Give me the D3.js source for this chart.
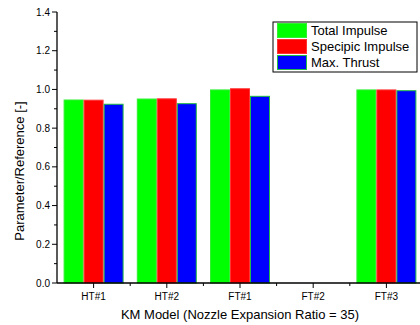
<!DOCTYPE html>
<html>
<head>
<meta charset="utf-8">
<script src="https://cdn.jsdelivr.net/npm/d3@7"></script>
<style>
  body { margin: 0; background: #fff; }
  svg { font-family: "Liberation Sans", Arial, sans-serif; }
</style>
</head>
<body>
<svg id="chart" width="420" height="325"></svg>
<script>
const categories = ['HT#1', 'HT#2', 'FT#1', 'FT#2', 'FT#3'];
const seriesNames = ['Total Impulse', 'Specipic Impulse', 'Max. Thrust'];
const totalImpulse = [0.948, 0.953, 1.0, null, 1.0];
const specificImpulse = [0.947, 0.954, 1.006, null, 1.0];
const maxThrust = [0.926, 0.929, 0.967, null, 0.996];
const yTicks = [0.0, 0.2, 0.4, 0.6, 0.8, 1.0, 1.2, 1.4];

const series = [totalImpulse, specificImpulse, maxThrust];
const fills = ['#00ff00', '#ff0000', '#0000ff'];
const strokes = ['#33ee33', '#ff3333', '#22bb44'];

const svg = d3.select('#chart');
const plotLeft = 57, plotTop = 12, plotBottom = 283;
const step = 73.2;

const x = d3.scaleBand()
  .domain(categories)
  .range([plotLeft, plotLeft + step * categories.length])
  .paddingInner(13.2 / 73.2)
  .paddingOuter(6.6 / 73.2);

const xSub = d3.scaleBand()
  .domain(seriesNames)
  .range([0, x.bandwidth()]);

const y = d3.scaleLinear()
  .domain([0, 1.4])
  .range([plotBottom, plotTop]);

// bars
seriesNames.forEach((name, si) => {
  svg.append('g')
    .selectAll('rect')
    .data(categories.map((c, i) => ({ c, v: series[si][i] })).filter(d => d.v != null))
    .enter()
    .append('rect')
    .attr('x', d => x(d.c) + xSub(name) + 0.5)
    .attr('y', d => y(d.v) + 0.5)
    .attr('width', xSub.bandwidth() - 1)
    .attr('height', d => y(0) - y(d.v) - 0.5)
    .attr('fill', fills[si])
    .attr('stroke', strokes[si])
    .attr('stroke-width', 1);
});

// y axis
const yAxis = svg.append('g').attr('transform', `translate(${plotLeft},0)`);
yAxis.append('line')
  .attr('x1', 0).attr('x2', 0)
  .attr('y1', y(1.4)).attr('y2', y(0))
  .attr('stroke', '#000').attr('stroke-width', 1.3);
yAxis.selectAll('.major')
  .data(yTicks).enter().append('line')
  .attr('x1', -5).attr('x2', 0)
  .attr('y1', d => y(d)).attr('y2', d => y(d))
  .attr('stroke', '#000');
yAxis.selectAll('.minor')
  .data(d3.range(0.1, 1.4, 0.2)).enter().append('line')
  .attr('x1', -3).attr('x2', 0)
  .attr('y1', d => y(d)).attr('y2', d => y(d))
  .attr('stroke', '#000');
yAxis.selectAll('text')
  .data(yTicks).enter().append('text')
  .attr('x', -7).attr('y', d => y(d) + 3.5)
  .attr('text-anchor', 'end')
  .attr('font-size', 10)
  .text(d => d.toFixed(1));

// x axis
const xAxis = svg.append('g').attr('transform', `translate(0,${plotBottom})`);
xAxis.append('line')
  .attr('x1', plotLeft).attr('x2', 420)
  .attr('y1', 0).attr('y2', 0)
  .attr('stroke', '#000').attr('stroke-width', 1.3);
xAxis.selectAll('.major')
  .data(categories).enter().append('line')
  .attr('x1', d => x(d) + x.bandwidth() / 2).attr('x2', d => x(d) + x.bandwidth() / 2)
  .attr('y1', 0).attr('y2', 5)
  .attr('stroke', '#000');
xAxis.selectAll('.minor')
  .data(categories).enter().append('line')
  .attr('x1', (d, i) => plotLeft + step * (i + 1)).attr('x2', (d, i) => plotLeft + step * (i + 1))
  .attr('y1', 0).attr('y2', 3)
  .attr('stroke', '#000');
xAxis.selectAll('text')
  .data(categories).enter().append('text')
  .attr('x', d => x(d) + x.bandwidth() / 2)
  .attr('y', 17)
  .attr('text-anchor', 'middle')
  .attr('font-size', 10)
  .text(d => d);

// axis titles
svg.append('text')
  .attr('x', 240).attr('y', 319)
  .attr('text-anchor', 'middle')
  .attr('font-size', 13)
  .text('KM Model (Nozzle Expansion Ratio = 35)');

svg.append('text')
  .attr('transform', 'translate(24,171) rotate(-90)')
  .attr('text-anchor', 'middle')
  .attr('font-size', 13)
  .text('Parameter/Reference [-]');

// legend
const legend = svg.append('g');
legend.append('rect')
  .attr('x', 273).attr('y', 22)
  .attr('width', 144).attr('height', 50)
  .attr('fill', '#fff').attr('stroke', '#000').attr('stroke-width', 1);
seriesNames.forEach((name, i) => {
  legend.append('rect')
    .attr('x', 277.5).attr('y', 23.5 + i * 16)
    .attr('width', 29).attr('height', 14)
    .attr('fill', fills[i]).attr('stroke', strokes[i]);
  legend.append('text')
    .attr('x', 311).attr('y', 35 + i * 16)
    .attr('font-size', 13)
    .text(name);
});
</script>
</body>
</html>
